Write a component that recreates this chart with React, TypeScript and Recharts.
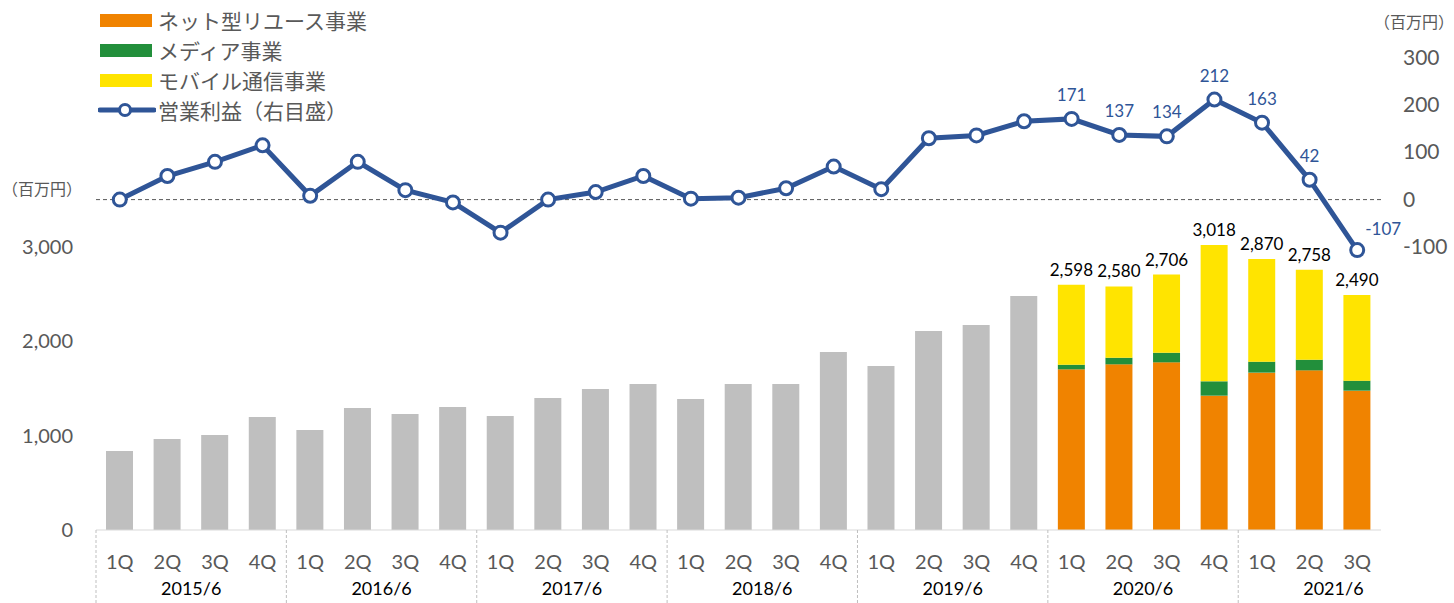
import { ComposedChart, Bar, Line, XAxis, YAxis, ReferenceLine, LabelList } from 'recharts';

const years = ['2015/6', '2016/6', '2017/6', '2018/6', '2019/6', '2020/6', '2021/6'];
const quarters = ['1Q', '2Q', '3Q', '4Q'];

// 売上高（セグメント開示前、灰色）
const totalSales = [837, 964, 1006, 1197, 1059, 1292, 1229, 1303, 1208, 1398, 1494, 1547, 1388, 1547, 1547, 1886, 1737, 2108, 2172, 2479];
// セグメント別（2020/6 1Q 〜）
const reuseSales = [1702, 1755, 1776, 1423, 1667, 1691, 1476];
const mediaSales = [49, 70, 102, 152, 116, 113, 106];
const mobileSales = [847, 755, 828, 1443, 1087, 954, 908];
const segmentTotals = [2598, 2580, 2706, 3018, 2870, 2758, 2490];
// 営業利益（右目盛）
const opProfit = [0, 50, 80, 115, 8, 80, 20, -6, -70, 0, 16, 50, 2, 4, 24, 70, 22, 130, 136, 166, 171, 137, 134, 212, 163, 42, -107];

const leftTicks = [0, 1000, 2000, 3000];
const rightTicks = [-100, 0, 100, 200, 300];

const COLORS = { gray: '#BFBFBF', reuse: '#F08300', media: '#228F3B', mobile: '#FFE400', line: '#2F5597', text: '#595959' };
const FONT = "Lato, 'Noto Sans CJK JP', sans-serif";
const SEG_START = totalSales.length;

const data = opProfit.map((p, i) => {
  const s = i - SEG_START;
  return {
    q: quarters[i % 4],
    year: years[Math.floor(i / 4)],
    gray: i < SEG_START ? totalSales[i] : null,
    reuse: s >= 0 ? reuseSales[s] : null,
    media: s >= 0 ? mediaSales[s] : null,
    mobile: s >= 0 ? mobileSales[s] : null,
    total: s >= 0 ? segmentTotals[s] : null,
    profit: p,
    profitLabel: s >= 0 ? p : null,
  };
});

const BAND = (1381 - 96) / data.length;

const XTick = (props: any) => {
  const { x, index, payload } = props;
  const d = data[index];
  const groupPos = index % 4;
  return (
    <g>
      {groupPos === 0 && (
        <line x1={x - BAND / 2} x2={x - BAND / 2} y1={530} y2={603} stroke="#BFBFBF" strokeDasharray="3 2" />
      )}
      <text x={x} y={569} textAnchor="middle" fill={COLORS.text} fontSize={20} fontFamily={FONT}>{payload.value}</text>
      {groupPos === 1 && (
        <text x={x + BAND / 2} y={595} textAnchor="middle" fill="#000" fontSize={18} fontFamily={FONT}>{d.year}</text>
      )}
    </g>
  );
};

const LeftTick = (props: any) => (
  <text x={73} y={props.y + 7} textAnchor="end" fill={COLORS.text} fontSize={20} fontFamily={FONT}>
    {props.payload.value.toLocaleString('en-US')}
  </text>
);

const RightTick = (props: any) => (
  <text x={1403} y={props.y + 7} textAnchor="start" fill={COLORS.text} fontSize={21} fontFamily={FONT}>
    {props.payload.value}
  </text>
);

const TotalLabel = (props: any) => {
  const { x, y, width, value } = props;
  if (value == null) return null;
  return (
    <text x={x + width / 2} y={y - 9} textAnchor="middle" fill="#000" fontSize={17} fontFamily={FONT}>
      {Number(value).toLocaleString('en-US')}
    </text>
  );
};

const ProfitLabel = (props: any) => {
  const { x, y, value } = props;
  if (value == null) return null;
  const neg = value < 0;
  return (
    <text x={neg ? x + 26 : x} y={neg ? y - 15 : y - 18} textAnchor="middle" fill={COLORS.line} fontSize={17} fontFamily={FONT}>
      {value}
    </text>
  );
};

const legendItems = [
  { name: 'ネット型リユース事業', color: COLORS.reuse, type: 'rect' },
  { name: 'メディア事業', color: COLORS.media, type: 'rect' },
  { name: 'モバイル通信事業', color: COLORS.mobile, type: 'rect' },
  { name: '営業利益（右目盛）', color: COLORS.line, type: 'line' },
];

const unitStyle = { position: 'absolute' as const, fontFamily: FONT, fontSize: 16, color: COLORS.text, whiteSpace: 'nowrap' as const };

export default function App() {
  return (
    <div style={{ position: 'absolute', left: 0, top: 0, width: 1454, height: 603, background: '#fff' }}>
      <div style={{ position: 'absolute', left: 98, top: 5, fontFamily: FONT, fontSize: 21, color: COLORS.text }}>
        {legendItems.map((it) => (
          <div key={it.name} style={{ display: 'flex', alignItems: 'center', height: 30 }}>
            {it.type === 'rect' ? (
              <div style={{ width: 52, height: 13, background: it.color, marginLeft: 2, marginRight: 6 }} />
            ) : (
              <svg width={58} height={16} style={{ marginRight: 2 }}>
                <line x1={2} x2={56} y1={8} y2={8} stroke={it.color} strokeWidth={5} strokeLinecap="round" />
                <circle cx={27} cy={8} r={5.5} fill="#fff" stroke={it.color} strokeWidth={3} />
              </svg>
            )}
            <span>{it.name}</span>
          </div>
        ))}
      </div>
      <div style={{ ...unitStyle, left: 2, top: 176 }}>（百万円）</div>
      <div style={{ ...unitStyle, left: 1374, top: 9 }}>（百万円）</div>
      <ComposedChart width={1454} height={603} data={data} margin={{ top: 58, right: 0, left: 0, bottom: 0 }} barSize={27}>
        <XAxis dataKey="q" height={73} tickLine={false} axisLine={{ stroke: '#D9D9D9' }} tick={<XTick />} interval={0} />
        <YAxis yAxisId="left" width={96} domain={[0, 5000]} ticks={leftTicks} axisLine={false} tickLine={false} tick={<LeftTick />} />
        <YAxis yAxisId="right" orientation="right" width={73} domain={[-700, 300]} ticks={rightTicks} axisLine={false} tickLine={false} tick={<RightTick />} />
        <Bar yAxisId="left" dataKey="gray" stackId="a" fill={COLORS.gray} isAnimationActive={false} />
        <Bar yAxisId="left" dataKey="reuse" stackId="a" fill={COLORS.reuse} isAnimationActive={false} />
        <Bar yAxisId="left" dataKey="media" stackId="a" fill={COLORS.media} isAnimationActive={false} />
        <Bar yAxisId="left" dataKey="mobile" stackId="a" fill={COLORS.mobile} isAnimationActive={false}>
          <LabelList dataKey="total" content={<TotalLabel />} />
        </Bar>
        <ReferenceLine yAxisId="right" y={0} stroke="#595959" strokeDasharray="4 3" />
        <Line yAxisId="right" dataKey="profit" stroke={COLORS.line} strokeWidth={5} isAnimationActive={false}
          dot={{ r: 6.5, fill: '#fff', stroke: COLORS.line, strokeWidth: 3 }}>
          <LabelList dataKey="profitLabel" content={<ProfitLabel />} />
        </Line>
      </ComposedChart>
    </div>
  );
}
